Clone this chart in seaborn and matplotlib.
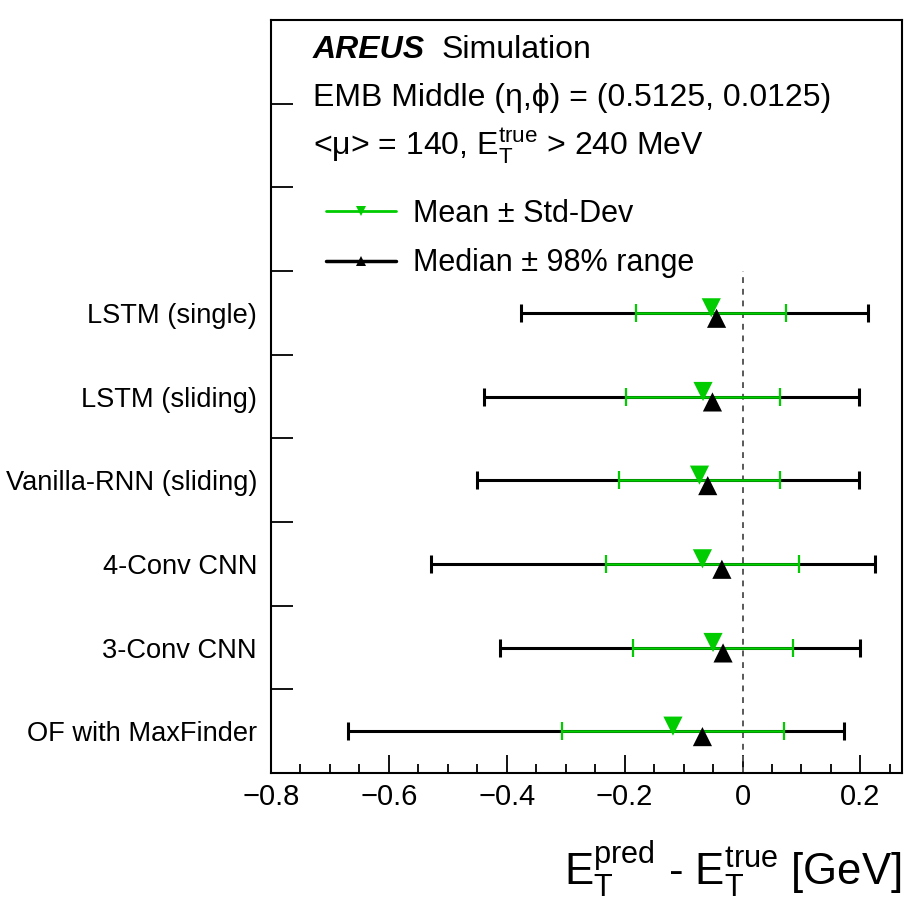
import numpy as np
import pandas as pd
import matplotlib
matplotlib.use("Agg")
import matplotlib.pyplot as plt
from matplotlib.lines import Line2D
from matplotlib.ticker import MultipleLocator, FuncFormatter
import seaborn as sns

# values (GeV), listed top row first
models = ['LSTM (single)', 'LSTM (sliding)', 'Vanilla-RNN (sliding)',
          '4-Conv CNN', '3-Conv CNN', 'OF with MaxFinder']
mean_vals = [-0.053, -0.067, -0.073, -0.068, -0.050, -0.118]
std_vals = [0.127, 0.130, 0.136, 0.163, 0.136, 0.188]
median_vals = [-0.044, -0.051, -0.059, -0.035, -0.033, -0.068]
q01_vals = [-0.375, -0.439, -0.450, -0.528, -0.412, -0.670]
q99_vals = [0.213, 0.198, 0.197, 0.224, 0.199, 0.173]

MEAN_LABEL = 'Mean \u00b1 Std-Dev'
MEDIAN_LABEL = 'Median \u00b1 98% range'
GREEN = '#00cc00'
BLACK = 'black'
HEAD_SIZE = 23
LEG_SIZE = 22

sns.set_style("ticks")
plt.rcParams['font.family'] = ['Liberation Sans', 'DejaVu Sans']
plt.rcParams['mathtext.fontset'] = 'custom'
plt.rcParams['mathtext.rm'] = 'Liberation Sans'
plt.rcParams['mathtext.it'] = 'Liberation Sans:italic'
plt.rcParams['mathtext.bf'] = 'Liberation Sans:bold'
plt.rcParams['axes.unicode_minus'] = True
for key in ['text.color', 'axes.labelcolor', 'xtick.color', 'ytick.color', 'axes.edgecolor']:
    plt.rcParams[key] = 'black'

n = len(models)
ypos = np.arange(n)[::-1] + 0.5   # top row is the first model

df = pd.DataFrame({
    'model': models * 2,
    'stat': [MEAN_LABEL] * n + [MEDIAN_LABEL] * n,
    'center': mean_vals + median_vals,
    'lo': list(np.array(mean_vals) - np.array(std_vals)) + q01_vals,
    'hi': list(np.array(mean_vals) + np.array(std_vals)) + q99_vals,
    'y': list(ypos) * 2,
})
# markers sit slightly above (mean) / below (median) the bar
marker_shift = {MEAN_LABEL: 0.06, MEDIAN_LABEL: -0.065}
df['y_marker'] = df['y'] + df['stat'].map(marker_shift)

fig = plt.figure(figsize=(9.24, 9.08), dpi=100)
ax = fig.add_axes([271 / 924, 135 / 908, 631 / 924, 753 / 908])

med = df[df['stat'] == MEDIAN_LABEL]
mn = df[df['stat'] == MEAN_LABEL]

ax.errorbar(med['center'], med['y'], xerr=[med['center'] - med['lo'], med['hi'] - med['center']],
            fmt='none', ecolor=BLACK, elinewidth=2.2, capsize=6.2, capthick=2.2, zorder=2)
ax.errorbar(mn['center'], mn['y'], xerr=[mn['center'] - mn['lo'], mn['hi'] - mn['center']],
            fmt='none', ecolor=GREEN, elinewidth=1.8, capsize=6.2, capthick=1.6, zorder=3)

ax.vlines(0, 0, 6, colors='0.35', linestyles=(0, (3, 3)), linewidth=1.4, zorder=1)

sns.scatterplot(data=df, x='center', y='y_marker', hue='stat', style='stat',
                palette={MEAN_LABEL: GREEN, MEDIAN_LABEL: BLACK},
                markers={MEAN_LABEL: 'v', MEDIAN_LABEL: '^'},
                hue_order=[MEAN_LABEL, MEDIAN_LABEL],
                s=190, linewidth=0, edgecolor='none', legend=False, ax=ax, zorder=4)

ax.set_xlim(-0.8, 0.2706)
ax.set_ylim(0, 9)

ax.xaxis.set_major_locator(MultipleLocator(0.2))
ax.xaxis.set_minor_locator(MultipleLocator(0.05))
ax.xaxis.set_major_formatter(FuncFormatter(lambda v, p: f'{v:g}'.replace('-', '\u2212')))
ax.tick_params(axis='x', which='major', direction='in', length=13, width=1.3,
               labelsize=21, pad=7, top=False, bottom=True)
ax.tick_params(axis='x', which='minor', direction='in', length=6.5, width=1.3,
               top=False, bottom=True)

ax.set_yticks(np.arange(0, 10))
ax.set_yticklabels([])
ax.set_yticks(ypos, minor=True)
ax.set_yticklabels(models, minor=True)
ax.tick_params(axis='y', which='major', direction='in', length=16, width=1.3,
               left=True, right=False)
ax.tick_params(axis='y', which='minor', length=0, labelsize=19.6, pad=10)
ax.set_ylabel('')

for sp in ax.spines.values():
    sp.set_linewidth(1.5)
    sp.set_color('black')

ax.set_xlabel(r'$\mathrm{E}_{\mathrm{T}}^{\mathrm{pred}}$ - $\mathrm{E}_{\mathrm{T}}^{\mathrm{true}}$ [GeV]',
              fontsize=31.5, loc='right')
ax.xaxis.label.set_va('baseline')
ax.xaxis.set_label_coords(1.0, -0.149)

# header texts
areus = ax.text(0.0666, 0.9495, 'AREUS', transform=ax.transAxes, fontsize=HEAD_SIZE,
                fontweight='bold', fontstyle='italic', va='baseline', ha='left')
ax.annotate('Simulation', xy=(1, 0), xycoords=areus, xytext=(12, 0),
            textcoords='offset points', fontsize=HEAD_SIZE, va='bottom', ha='left')
ax.text(0.0666, 0.8858, 'EMB Middle (\u03b7,\u03d5) = (0.5125, 0.0125)', transform=ax.transAxes,
        fontsize=HEAD_SIZE, va='baseline', ha='left')
ax.text(0.0666, 0.8207, '<\u03bc> = 140, $\\mathrm{E}_{\\mathrm{T}}^{\\mathrm{true}}$ > 240 MeV',
        transform=ax.transAxes, fontsize=HEAD_SIZE, va='baseline', ha='left')

handles = [Line2D([], [], color=GREEN, lw=2, marker='v', markersize=7, markeredgewidth=0),
           Line2D([], [], color=BLACK, lw=2.5, marker='^', markersize=7, markeredgewidth=0)]
ax.legend(handles, [MEAN_LABEL, MEDIAN_LABEL], loc='upper left', bbox_to_anchor=(0.0872, 0.7623),
          frameon=False, fontsize=LEG_SIZE, handlelength=2.3, handletextpad=0.55,
          labelspacing=0.63, borderpad=0, borderaxespad=0)

fig.savefig('out.png', dpi=100, facecolor='white')
